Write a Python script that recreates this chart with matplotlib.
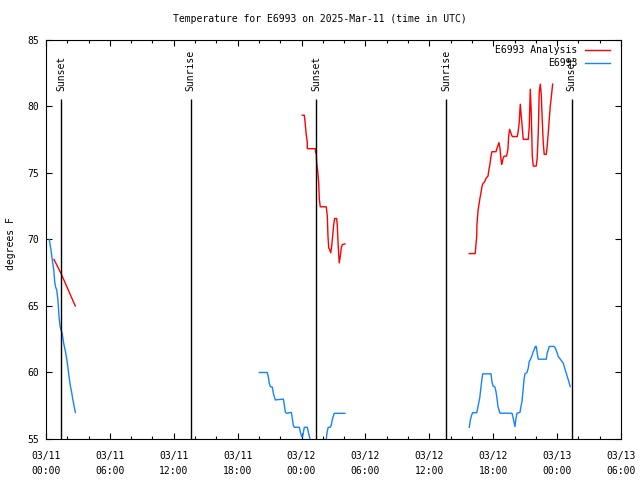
import pandas as pd
import matplotlib
matplotlib.use('Agg')
import matplotlib.pyplot as plt
import matplotlib.dates as mdates

plt.rcParams['font.family'] = ['DejaVu Sans Mono']
plt.rcParams['font.size'] = 7

base = pd.Timestamp('2025-03-11 00:00')

# hours after 03/11 00:00 UTC, temperatures in degrees F
analysis_h1 = [0.75, 1.38, 2.75]
analysis_t1 = [68.5, 67.5, 65.0]

analysis_h2 = [24.07, 24.26, 24.32, 24.42, 24.54, 24.54, 25.29, 25.33, 25.38, 25.42,
               25.52, 25.61, 25.67, 25.76, 26.32, 26.42, 26.48, 26.55, 26.64, 26.74,
               26.83, 26.92, 27.02, 27.11, 27.30, 27.36, 27.42, 27.49, 27.54, 27.64,
               27.73, 27.83, 28.08]
analysis_t2 = [79.34, 79.34, 78.9, 78.04, 77.28, 76.83, 76.83, 76.53, 76.53, 75.78,
               75.14, 74.27, 73.01, 72.46, 72.46, 71.75, 70.25, 69.37, 69.24, 69.0,
               69.49, 70.25, 71.13, 71.58, 71.58, 71.0, 69.87, 68.87, 68.24, 68.74,
               69.37, 69.62, 69.67]

analysis_h3 = [39.75, 40.31, 40.38, 40.45, 40.47, 40.57, 40.66, 40.76, 40.85, 40.94,
               41.04, 41.13, 41.22, 41.32, 41.51, 41.60, 41.69, 41.79, 41.88, 42.26,
               42.35, 42.45, 42.54, 42.63, 42.73, 42.79, 42.85, 42.94, 43.04, 43.26,
               43.38, 43.45, 43.54, 43.64, 43.79, 44.26, 44.35, 44.44, 44.54, 44.63,
               44.73, 44.82, 45.29, 45.38, 45.48, 45.57, 45.67, 45.76, 46.04, 46.13,
               46.23, 46.32, 46.42, 46.51, 46.60, 46.70, 46.79, 46.98, 47.07, 47.17,
               47.26, 47.36, 47.45, 47.58]
analysis_t3 = [68.94, 68.94, 69.62, 70.25, 71.13, 72.13, 72.63, 73.14, 73.52, 73.97,
               74.22, 74.27, 74.39, 74.59, 74.77, 75.27, 75.65, 76.27, 76.6, 76.6,
               76.85, 77.08, 77.28, 76.88, 76.03, 75.65, 75.82, 76.15, 76.27, 76.27,
               76.78, 77.78, 78.29, 78.04, 77.74, 77.74, 78.16, 78.79, 80.17, 79.29,
               78.41, 77.53, 77.53, 78.41, 81.3, 79.54, 76.27, 75.52, 75.52, 76.15,
               78.04, 81.05, 81.68, 80.92, 79.04, 77.28, 76.4, 76.4, 77.03, 78.04,
               79.04, 80.04, 80.67, 81.68]

obs_h1 = [0.31, 0.47, 0.60, 0.73, 0.82, 0.91, 1.01, 1.11, 1.16, 1.22, 1.32, 1.41,
          1.53, 1.66, 1.79, 1.91, 2.04, 2.16, 2.29, 2.41, 2.51, 2.63, 2.76]
obs_t1 = [70.0, 69.2, 68.4, 67.7, 66.8, 66.4, 66.2, 65.5, 65.0, 64.2, 63.5, 63.2,
          62.9, 62.2, 61.7, 61.2, 60.5, 59.7, 59.0, 58.5, 58.0, 57.5, 57.0]

obs_h2 = [20.03, 20.78, 20.87, 20.97, 21.06, 21.25, 21.35, 21.53, 22.29, 22.38,
          22.47, 22.57, 23.04, 23.13, 23.22, 23.32, 23.79, 23.88, 24.01, 24.10,
          24.26, 24.54, 24.63, 24.82, 25.0, 26.1, 26.32, 26.41, 26.50, 26.69,
          26.79, 26.88, 26.97, 27.07, 28.07]
obs_t2 = [60.0, 60.0, 59.7, 59.2, 58.95, 58.9, 58.44, 57.94, 58.0, 57.56,
          57.05, 56.93, 57.0, 56.56, 56.05, 55.88, 55.88, 55.55, 55.17, 55.17,
          55.88, 55.88, 55.55, 54.9, 54.0, 54.0, 55.0, 55.55, 55.88, 55.88,
          56.05, 56.43, 56.68, 56.93, 56.93]

obs_h3 = [39.75, 39.85, 39.98, 40.07, 40.45, 40.54, 40.63, 40.73, 40.82, 40.91,
          41.01, 41.79, 41.88, 41.98, 42.16, 42.26, 42.35, 42.45, 42.54, 42.63,
          43.76, 43.88, 44.04, 44.14, 44.23, 44.51, 44.60, 44.70, 44.79, 44.89,
          44.98, 45.17, 45.29, 45.38, 45.48, 45.67, 45.76, 45.85, 45.95, 46.04,
          46.13, 46.23, 46.98, 47.07, 47.17, 47.26, 47.73, 47.83, 47.92, 48.01,
          48.11, 48.30, 48.58, 48.67, 48.76, 48.86, 48.95, 49.05, 49.14, 49.23]
obs_t3 = [55.88, 56.43, 56.81, 56.98, 56.98, 57.31, 57.69, 58.07, 58.69, 59.32,
          59.9, 59.9, 59.32, 58.99, 58.9, 58.56, 58.07, 57.43, 57.19, 56.94,
          56.94, 56.56, 55.93, 56.56, 56.94, 57.0, 57.43, 57.81, 58.56, 59.45,
          59.9, 60.0, 60.33, 60.83, 60.95, 61.33, 61.58, 61.71, 61.96, 61.96,
          61.46, 61.0, 61.0, 61.46, 61.71, 61.96, 61.96, 61.83, 61.65, 61.46,
          61.2, 61.0, 60.7, 60.45, 60.2, 59.95, 59.7, 59.45, 59.2, 58.94]

sun_times = ['2025-03-11 01:26', '2025-03-11 13:35', '2025-03-12 01:23',
             '2025-03-12 13:34', '2025-03-13 01:22']
sun_labels = ['Sunset', 'Sunrise', 'Sunset', 'Sunrise', 'Sunset']


def to_time(hours):
    return base + pd.to_timedelta(hours, unit='h')


fig = plt.figure(figsize=(6.4, 4.8), dpi=100)
ax = fig.add_axes([46 / 640, 41 / 480, 575 / 640, 399 / 480])

red = '#ff0000'
blue = '#1583ff'
ax.plot(to_time(analysis_h1), analysis_t1, color=red, lw=1.0, label='E6993 Analysis')
ax.plot(to_time(analysis_h2), analysis_t2, color=red, lw=1.0)
ax.plot(to_time(analysis_h3), analysis_t3, color=red, lw=1.0)
ax.plot(to_time(obs_h1), obs_t1, color=blue, lw=1.0, label='E6993')
ax.plot(to_time(obs_h2), obs_t2, color=blue, lw=1.0)
ax.plot(to_time(obs_h3), obs_t3, color=blue, lw=1.0)

for t, lab in zip(sun_times, sun_labels):
    ts = pd.Timestamp(t)
    ax.vlines(ts, 55, 80.6, color='black', lw=1.0)
    ax.text(ts, 81.2, lab, rotation=90, ha='center', va='bottom')

ax.set_xlim(base, base + pd.Timedelta(hours=54))
ax.set_ylim(55, 85)
ax.set_yticks(range(55, 86, 5))
ax.xaxis.set_major_locator(mdates.HourLocator(byhour=[0, 6, 12, 18]))
ax.xaxis.set_minor_locator(mdates.HourLocator(interval=2))
ax.xaxis.set_major_formatter(mdates.DateFormatter('%m/%d\n%H:%M'))
ax.tick_params(which='major', direction='in', length=4, width=0.8,
               top=True, right=True, pad=5)
ax.tick_params(axis='x', which='major', pad=9)
ax.tick_params(which='minor', direction='in', length=2, width=0.8, top=True)
for lbl in ax.get_xticklabels():
    lbl.set_multialignment('center')
    lbl.set_linespacing(1.5)

ax.set_ylabel('degrees F')
ax.yaxis.set_label_coords(-0.052, 0.49)
fig.text(0.5, 1 - 19 / 480, 'Temperature for E6993 on 2025-Mar-11 (time in UTC)',
         ha='center', va='center')

ax.legend(loc='upper right', bbox_to_anchor=(1 - 11 / 575, 1 - 5 / 399),
          frameon=False, markerfirst=False, borderpad=0, borderaxespad=0,
          handlelength=2.6, handletextpad=0.75, labelspacing=0.35)

fig.savefig('out.png', dpi=100)
